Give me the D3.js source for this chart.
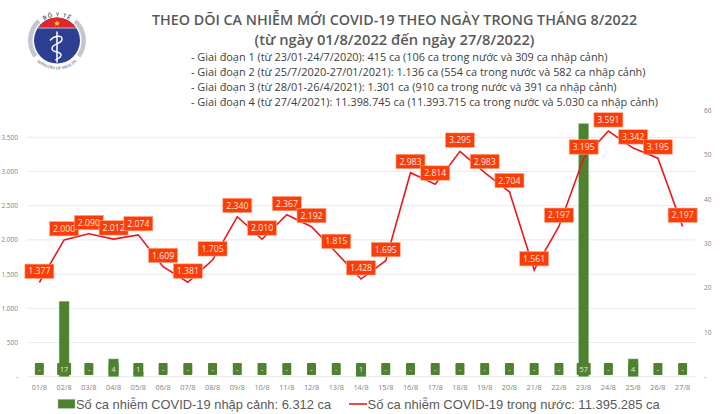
<!DOCTYPE html>
<html>
<head>
<meta charset="utf-8">
<script src="https://cdn.jsdelivr.net/npm/d3@7"></script>
<style>
    html, body { margin: 0; padding: 0; background: #fff; }
    svg { display: block; }
    text { font-family: "Open Sans", "Noto Sans", sans-serif; }
</style>
</head>
<body>
<div id="display"></div>
<script>
var days = ["01/8", "02/8", "03/8", "04/8", "05/8", "06/8", "07/8", "08/8", "09/8", "10/8", "11/8", "12/8", "13/8", "14/8",
    "15/8", "16/8", "17/8", "18/8", "19/8", "20/8", "21/8", "22/8", "23/8", "24/8", "25/8", "26/8", "27/8"];
var domestic = [1377, 2000, 2090, 2012, 2074, 1609, 1381, 1705, 2340, 2010, 2367, 2192, 1815, 1428,
    1695, 2983, 2814, 3295, 2983, 2704, 1561, 2197, 3195, 3591, 3342, 3195, 2197];
var imported = [0, 17, 0, 4, 1, 0, 0, 0, 0, 0, 0, 0, 0, 1,
    0, 0, 0, 0, 0, 0, 0, 0, 57, 0, 4, 0, 0];
var leftTicks = [0, 500, 1000, 1500, 2000, 2500, 3000, 3500];
var rightTicks = [0, 10, 20, 30, 40, 50, 60];
var titleLines = ["THEO DÕI CA NHIỄM MỚI COVID-19 THEO NGÀY TRONG THÁNG 8/2022",
    "(từ ngày 01/8/2022 đến ngày 27/8/2022)"];
var phases = ["- Giai đoạn 1 (từ 23/01-24/7/2020): 415 ca (106 ca trong nước và 309 ca nhập cảnh)",
    "- Giai đoạn 2 (từ 25/7/2020-27/01/2021): 1.136 ca (554 ca trong nước và 582 ca nhập cảnh)",
    "- Giai đoạn 3 (từ 28/01-26/4/2021): 1.301 ca (910 ca trong nước và 391 ca nhập cảnh)",
    "- Giai đoạn 4 (từ 27/4/2021): 11.398.745 ca (11.393.715 ca trong nước và 5.030 ca nhập cảnh)"];
var legendImported = "Số ca nhiễm COVID-19 nhập cảnh: 6.312 ca";
var legendDomestic = "Số ca nhiễm COVID-19 trong nước: 11.395.285 ca";

var width = 720, height = 414;
var svg = d3.select("#display").append("svg").attr("width", width).attr("height", height);

var x = d3.scaleBand().domain(days).range([27, 695]);
var yLeft = d3.scaleLinear().domain([0, 3500]).range([376.7, 137.3]);
var yRight = d3.scaleLinear().domain([0, 60]).range([376.7, 110.3]);
var fmt = function (v) { return d3.format(",")(v).replace(/,/g, "."); };

// grid
svg.append("g").selectAll("line").data(leftTicks).enter().append("line")
    .attr("x1", 27).attr("x2", 695)
    .attr("y1", d => yLeft(d)).attr("y2", d => yLeft(d))
    .attr("stroke", "#e9e9ee").attr("stroke-width", 1);

// left axis
var axisL = d3.axisLeft(yLeft).tickValues(leftTicks).tickSize(0)
    .tickFormat(d => d == 0 ? "-" : fmt(d));
var gL = svg.append("g").attr("transform", "translate(21,0)").call(axisL);
gL.select(".domain").remove();
gL.selectAll("text").attr("fill", "#7f7f7f").style("font-size", "6.5px");

// right axis
var axisR = d3.axisRight(yRight).tickValues(rightTicks).tickSize(0)
    .tickFormat(d => d == 0 ? "-" : d);
var gR = svg.append("g").attr("transform", "translate(701,0)").call(axisR);
gR.select(".domain").remove();
gR.selectAll("text").attr("fill", "#7f7f7f").style("font-size", "6.5px");

// x axis
var axisX = d3.axisBottom(x).tickSize(0);
var gX = svg.append("g").attr("transform", "translate(0,382)").call(axisX);
gX.select(".domain").remove();
gX.selectAll("text").attr("fill", "#7f7f7f").style("font-size", "7.3px");

// imported bars
var barW = 10;
svg.append("g").selectAll("rect").data(imported).enter().append("rect")
    .attr("x", (d, i) => x(days[i]) + x.bandwidth() / 2 - barW / 2)
    .attr("width", barW)
    .attr("y", d => yRight(d))
    .attr("height", d => yRight(0) - yRight(d))
    .attr("fill", "#4f8131").attr("stroke", "#8fce8f").attr("stroke-width", 0.5);

// bar labels
var barLabels = svg.append("g").selectAll("g").data(imported).enter().append("g")
    .attr("transform", (d, i) => "translate(" + (x(days[i]) + x.bandwidth() / 2) + ",369)");
barLabels.append("rect")
    .attr("x", d => d >= 10 ? -7 : (d > 0 ? -5 : -4.5))
    .attr("width", d => d >= 10 ? 14 : (d > 0 ? 10 : 9))
    .attr("y", -6).attr("height", 12).attr("rx", 1)
    .attr("fill", "#4f8131");
barLabels.append("text")
    .attr("text-anchor", "middle").attr("dy", "0.35em")
    .attr("fill", "#e4ecdf").style("font-size", "7.2px")
    .text(d => d == 0 ? "-" : d);

// domestic line
var line = d3.line().x((d, i) => x(days[i]) + x.bandwidth() / 2).y(d => yLeft(d));
svg.append("path").datum(domestic).attr("d", line)
    .attr("fill", "none").attr("stroke", "#e8191c").attr("stroke-width", 1.6);

// line labels, later ones over earlier ones
var lineLabels = svg.append("g").selectAll("g").data(domestic).enter().append("g")
    .attr("transform", (d, i) => "translate(" + (x(days[i]) + x.bandwidth() / 2) + "," + (yLeft(d) - 11.2) + ")");
lineLabels.append("rect")
    .attr("x", -14.5).attr("y", -7.2).attr("width", 29).attr("height", 14.4)
    .attr("fill", "#fb3d07").attr("stroke", "#fda98e").attr("stroke-width", 0.6);
lineLabels.append("text")
    .attr("text-anchor", "middle").attr("dy", "0.36em")
    .attr("fill", "#fde9e2").style("font-size", "8.7px")
    .text(d => fmt(d));

// title block
svg.selectAll(".title").data(titleLines).enter().append("text")
    .attr("class", "title")
    .attr("x", 394.5).attr("y", (d, i) => 24.5 + i * 20.5)
    .attr("text-anchor", "middle").attr("fill", "#595959")
    .style("font-size", (d, i) => i ? "14.7px" : "14.3px").style("font-weight", 600)
    .text(d => d);

svg.selectAll(".phase").data(phases).enter().append("text")
    .attr("class", "phase")
    .attr("x", 191).attr("y", (d, i) => 61 + i * 15)
    .attr("fill", "#404040").style("font-size", "10.9px")
    .text(d => d);

// legend
svg.append("rect").attr("x", 58).attr("y", 399.3).attr("width", 17).attr("height", 9)
    .attr("fill", "#4f8131").attr("stroke", "#8fce8f").attr("stroke-width", 0.5);
svg.append("text").attr("x", 76).attr("y", 408.5).attr("fill", "#595959")
    .style("font-family", "'Liberation Sans'").style("font-size", "12.9px").text(legendImported);
svg.append("line").attr("x1", 349).attr("x2", 367).attr("y1", 404).attr("y2", 404)
    .attr("stroke", "#e8191c").attr("stroke-width", 1.6);
svg.append("text").attr("x", 367.5).attr("y", 408.5).attr("fill", "#595959")
    .style("font-family", "'Liberation Sans'").style("font-size", "13px").text(legendDomestic);

// logo
var logo = svg.append("g").attr("transform", "translate(57,40.5)");
var ringArc = d3.arc().innerRadius(24.5).outerRadius(29);
logo.append("path").attr("d", ringArc({ startAngle: 0.75, endAngle: 2.2 })).attr("fill", "#c4c6cf");
logo.append("path").attr("d", ringArc({ startAngle: -2.2, endAngle: -0.75 })).attr("fill", "#c4c6cf");
logo.append("circle").attr("r", 23).attr("fill", "#2c3f93");
logo.append("path").attr("d", "M-19,-13 A23,23 0 0 1 19,-13 Z").attr("fill", "#e0252b");
logo.append("line").attr("x1", -19).attr("x2", 19).attr("y1", -12.5).attr("y2", -12.5)
    .attr("stroke", "#e8e8ee").attr("stroke-width", 0.8);
logo.append("path").attr("d", d3.symbol().type(d3.symbolStar).size(12)()).attr("transform", "translate(0,-17)").attr("fill", "#f7d631");
logo.append("line").attr("y1", -9).attr("y2", 22).attr("stroke", "#fff").attr("stroke-width", 1.5);
logo.append("path").attr("d", "M-7,0 C-3,-5 6,-6 5,-1 C4,4 -5,3 -5,8 C-5,13 5,10 4,15 C3,19 -2,18 -1,20")
    .attr("fill", "none").attr("stroke", "#fff").attr("stroke-width", 1.4);
var defs = svg.append("defs");
defs.append("path").attr("id", "arcTop").attr("d", "M-24,0 A24,24 0 0 1 24,0");
defs.append("path").attr("id", "arcBottom").attr("d", "M-29,0 A29,29 0 0 0 29,0");
logo.append("text").attr("fill", "#444").style("font-size", "5.6px").style("font-weight", 600)
    .style("letter-spacing", "1px").attr("text-anchor", "middle")
    .append("textPath").attr("href", "#arcTop").attr("startOffset", "50%").text("BỘ Y TẾ");
logo.append("text").attr("fill", "#444").style("font-size", "4.2px").style("font-family", "'Liberation Serif'").attr("text-anchor", "middle")
    .append("textPath").attr("href", "#arcBottom").attr("startOffset", "50%").text("MINISTRY OF HEALTH");
</script>
</body>
</html>
